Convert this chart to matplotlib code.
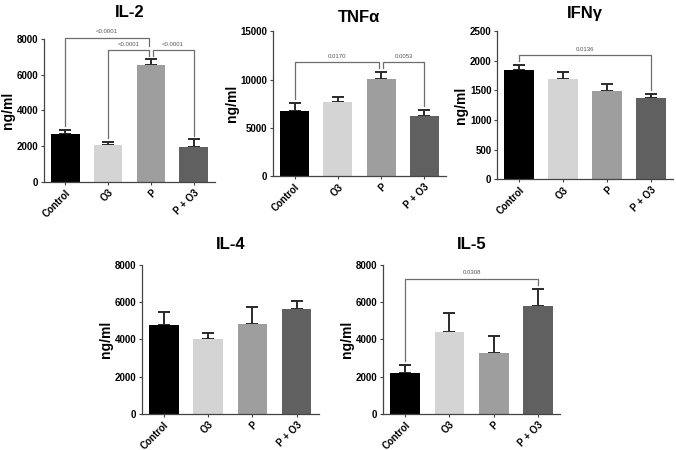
import matplotlib
matplotlib.use("Agg")
import matplotlib.pyplot as plt

plt.rcParams['font.family'] = ['Liberation Sans', 'DejaVu Sans']

groups = ["Control", "O3", "P", "P + O3"]
bar_colors = ["#000000", "#d4d4d4", "#9e9e9e", "#606060"]

il2_mean = [2710, 2060, 6520, 1960]
il2_err = [210, 185, 340, 430]
tnf_mean = [6760, 7720, 10030, 6210]
tnf_err = [860, 520, 760, 690]
ifn_mean = [1843, 1691, 1489, 1376]
ifn_err = [84, 124, 123, 68]
il4_mean = [4790, 4020, 4820, 5620]
il4_err = [680, 320, 890, 450]
il5_mean = [2210, 4410, 3290, 5790]
il5_err = [410, 980, 910, 930]

# (bar a, bar b, label, level)
il2_comp = [(0, 2, "<0.0001", 1), (1, 2, "<0.0001", 0), (2, 3, "<0.0001", 0)]
tnf_comp = [(0, 2, "0.0170", 0), (2, 3, "0.0053", 0)]
ifn_comp = [(0, 3, "0.0136", 0)]
il5_comp = [(0, 3, "0.0308", 0)]

fig = plt.figure(figsize=(6.76, 4.5), dpi=100)


def brackets(ax, means, errs, comps, ymax):
    caps = [m + e for m, e in zip(means, errs)]
    gap = 0.025 * ymax
    heights = {}
    for a, b, lab, lev in sorted(comps, key=lambda c: c[3]):
        h = max(caps[a:b + 1]) + 0.065 * ymax + lev * 0.085 * ymax
        heights[(a, b)] = h
    touch = {}
    for a, b, lab, lev in comps:
        touch[a] = touch.get(a, 0) + 1
        touch[b] = touch.get(b, 0) + 1
    for a, b, lab, lev in comps:
        h = heights[(a, b)]
        xa = a + (0.04 if touch[a] > 1 else 0)
        xb = b - (0.04 if touch[b] > 1 else 0)
        ends = []
        for k in (a, b):
            low = caps[k]
            for (c, d), hh in heights.items():
                if (c, d) != (a, b) and k in (c, d) and hh < h:
                    low = max(low, hh)
            ends.append(low + gap)
        ax.plot([xa, xa, xb, xb], [ends[0], h, h, ends[1]], color="#6e6e6e",
                lw=0.9, clip_on=False, zorder=4)
        ax.annotate(lab, ((xa + xb) / 2, h), xytext=(0, 2.5), textcoords="offset points",
                    ha="center", va="bottom", fontsize=4.3, color="#555555",
                    annotation_clip=False)


def panel(rect, title, means, errs, ymax, step, comps, tpad):
    ax = fig.add_axes(rect)
    x = range(len(groups))
    ax.bar(x, means, width=0.67, color=bar_colors, zorder=2)
    ax.errorbar(x, means, yerr=[[0] * len(errs), errs], fmt="none", ecolor="#2a2a2a",
                elinewidth=1.4, capsize=4, capthick=1.4, zorder=1)
    ax.set_xlim(-0.5, 3.5)
    ax.set_ylim(0, ymax)
    ax.set_yticks(range(0, ymax + 1, step))
    ax.set_xticks(list(x))
    ax.set_xticklabels(groups, rotation=45, ha="right", rotation_mode="anchor",
                       fontsize=7, fontweight="bold")
    for t in ax.get_yticklabels():
        t.set_fontsize(7)
        t.set_fontweight("bold")
    for s in ("top", "right"):
        ax.spines[s].set_visible(False)
    for s in ("left", "bottom"):
        ax.spines[s].set_color("#444444")
        ax.spines[s].set_linewidth(0.9)
    ax.tick_params(length=2.5, width=0.8, color="#444444", pad=1.5)
    ax.set_ylabel("ng/ml", fontsize=10, fontweight="bold", labelpad=1)
    ax.set_title(title, fontsize=12, fontweight="bold", pad=tpad)
    if comps:
        brackets(ax, means, errs, comps, ymax)
    return ax


panel([0.0650, 0.5956, 0.253, 0.3178], "IL-2", il2_mean, il2_err, 8000, 2000, il2_comp, 16)
panel([0.4038, 0.6078, 0.256, 0.3233], "TNFα", tnf_mean, tnf_err, 15000, 5000, tnf_comp, 6.5)
panel([0.7352, 0.6016, 0.26, 0.3296], "IFNγ", ifn_mean, ifn_err, 2500, 500, ifn_comp, 9.5)
panel([0.2096, 0.08, 0.262, 0.3318], "IL-4", il4_mean, il4_err, 8000, 2000, None, 11.5)
panel([0.5666, 0.08, 0.262, 0.3318], "IL-5", il5_mean, il5_err, 8000, 2000, il5_comp, 11)

fig.savefig("out.png", dpi=100)
